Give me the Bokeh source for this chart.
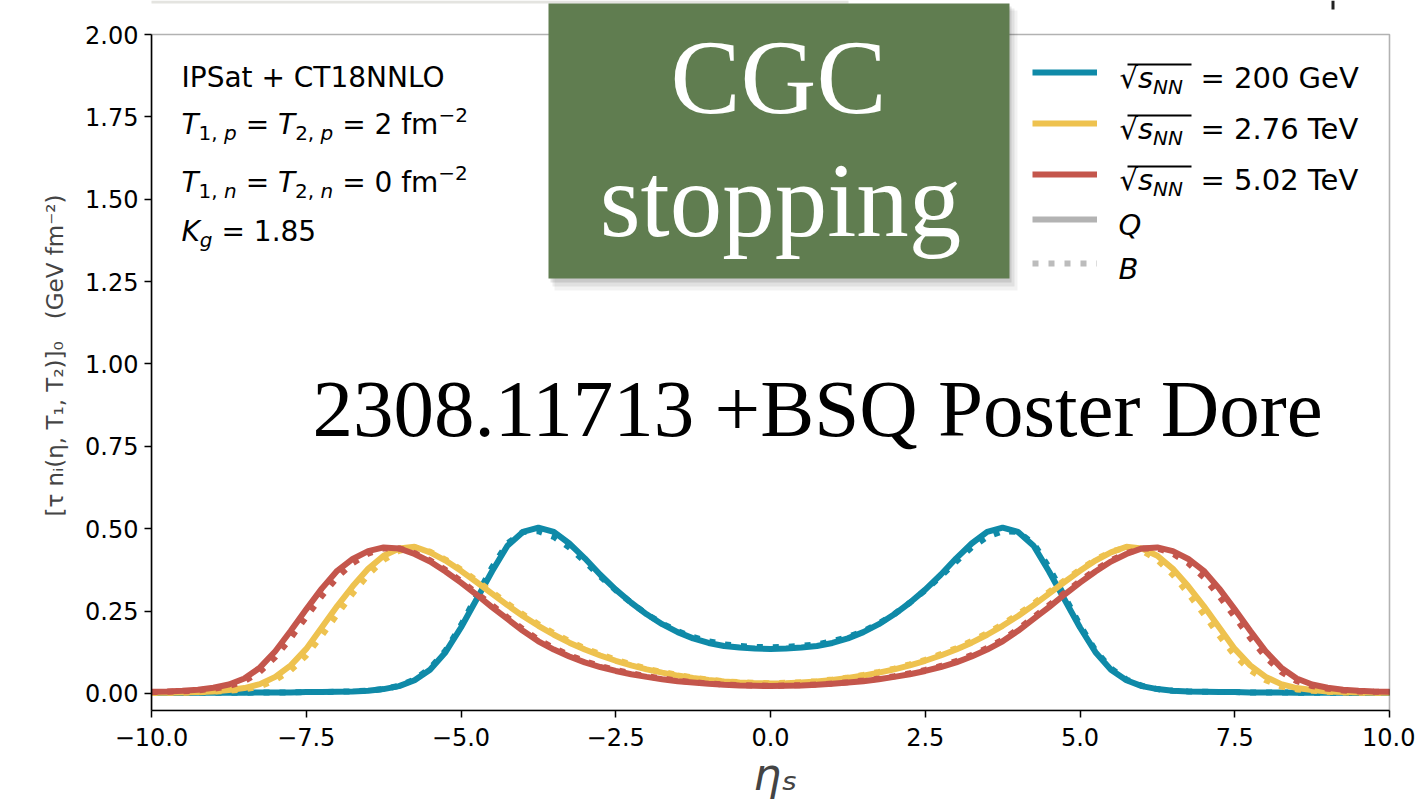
from bokeh.plotting import figure
from bokeh.models import Label, BoxAnnotation, FixedTicker, Legend, LegendItem
from bokeh.embed import file_html
from bokeh.resources import INLINE

# ---------------- data ----------------
eta = [-10.0, -9.75, -9.5, -9.25, -9.0, -8.75, -8.5, -8.25, -8.0, -7.75,
       -7.5, -7.25, -7.0, -6.75, -6.5, -6.25, -6.0, -5.75, -5.5, -5.25,
       -5.0, -4.75, -4.5, -4.25, -4.0, -3.75, -3.5, -3.25, -3.0, -2.75,
       -2.5, -2.25, -2.0, -1.75, -1.5, -1.25, -1.0, -0.75, -0.5, -0.25,
       0.0, 0.25, 0.5, 0.75, 1.0, 1.25, 1.5, 1.75, 2.0, 2.25,
       2.5, 2.75, 3.0, 3.25, 3.5, 3.75, 4.0, 4.25, 4.5, 4.75,
       5.0, 5.25, 5.5, 5.75, 6.0, 6.25, 6.5, 6.75, 7.0, 7.25,
       7.5, 7.75, 8.0, 8.25, 8.5, 8.75, 9.0, 9.25, 9.5, 9.75, 10.0]

# sqrt(s_NN) = 200 GeV
q_200 = [0.001, 0.001, 0.001, 0.002, 0.002, 0.002, 0.002, 0.003, 0.003, 0.003,
         0.004, 0.004, 0.005, 0.006, 0.008, 0.013, 0.022, 0.040, 0.072, 0.125,
         0.200, 0.285, 0.370, 0.448, 0.490, 0.503, 0.490, 0.455, 0.410, 0.360,
         0.315, 0.275, 0.240, 0.210, 0.186, 0.167, 0.153, 0.144, 0.139, 0.136,
         0.135, 0.136, 0.139, 0.144, 0.153, 0.167, 0.186, 0.210, 0.240, 0.275,
         0.315, 0.360, 0.410, 0.455, 0.490, 0.503, 0.490, 0.448, 0.370, 0.285,
         0.200, 0.125, 0.072, 0.040, 0.022, 0.013, 0.008, 0.006, 0.005, 0.004,
         0.004, 0.003, 0.003, 0.003, 0.002, 0.002, 0.002, 0.002, 0.001, 0.001, 0.001]
b_200 = [0.001, 0.001, 0.001, 0.002, 0.002, 0.002, 0.002, 0.003, 0.003, 0.003,
         0.004, 0.004, 0.005, 0.006, 0.008, 0.013, 0.023, 0.042, 0.076, 0.130,
         0.207, 0.295, 0.382, 0.455, 0.490, 0.492, 0.475, 0.443, 0.400, 0.355,
         0.313, 0.275, 0.241, 0.212, 0.189, 0.171, 0.158, 0.149, 0.144, 0.141,
         0.140, 0.141, 0.144, 0.149, 0.158, 0.171, 0.189, 0.212, 0.241, 0.275,
         0.313, 0.355, 0.400, 0.443, 0.475, 0.492, 0.490, 0.455, 0.382, 0.295,
         0.207, 0.130, 0.076, 0.042, 0.023, 0.013, 0.008, 0.006, 0.005, 0.004,
         0.004, 0.003, 0.003, 0.003, 0.002, 0.002, 0.002, 0.002, 0.001, 0.001, 0.001]

# sqrt(s_NN) = 2.76 TeV
q_276 = [0.002, 0.002, 0.003, 0.004, 0.006, 0.010, 0.016, 0.028, 0.050, 0.085,
         0.135, 0.200, 0.265, 0.325, 0.378, 0.418, 0.440, 0.445, 0.428, 0.403,
         0.372, 0.338, 0.303, 0.268, 0.235, 0.205, 0.178, 0.154, 0.133, 0.115,
         0.099, 0.085, 0.073, 0.063, 0.054, 0.047, 0.041, 0.036, 0.033, 0.031,
         0.030, 0.031, 0.033, 0.036, 0.041, 0.047, 0.054, 0.063, 0.073, 0.085,
         0.099, 0.115, 0.133, 0.154, 0.178, 0.205, 0.235, 0.268, 0.303, 0.338,
         0.372, 0.403, 0.428, 0.445, 0.440, 0.418, 0.378, 0.325, 0.265, 0.200,
         0.135, 0.085, 0.050, 0.028, 0.016, 0.010, 0.006, 0.004, 0.003, 0.002, 0.002]
b_276 = [0.001, 0.002, 0.002, 0.003, 0.005, 0.008, 0.012, 0.021, 0.040, 0.070,
         0.115, 0.175, 0.240, 0.303, 0.360, 0.405, 0.433, 0.443, 0.430, 0.406,
         0.376, 0.343, 0.308, 0.273, 0.240, 0.210, 0.183, 0.159, 0.137, 0.119,
         0.102, 0.088, 0.075, 0.065, 0.056, 0.048, 0.042, 0.037, 0.034, 0.032,
         0.031, 0.032, 0.034, 0.037, 0.042, 0.048, 0.056, 0.065, 0.075, 0.088,
         0.102, 0.119, 0.137, 0.159, 0.183, 0.210, 0.240, 0.273, 0.308, 0.343,
         0.376, 0.406, 0.430, 0.443, 0.433, 0.405, 0.360, 0.303, 0.240, 0.175,
         0.115, 0.070, 0.040, 0.021, 0.012, 0.008, 0.005, 0.003, 0.002, 0.002, 0.001]

# sqrt(s_NN) = 5.02 TeV
q_502 = [0.005, 0.006, 0.008, 0.011, 0.017, 0.027, 0.045, 0.078, 0.128, 0.190,
         0.255, 0.318, 0.372, 0.408, 0.432, 0.443, 0.440, 0.423, 0.400, 0.370,
         0.336, 0.300, 0.262, 0.226, 0.190, 0.158, 0.133, 0.112, 0.094, 0.080,
         0.068, 0.058, 0.050, 0.043, 0.037, 0.033, 0.029, 0.026, 0.024, 0.023,
         0.022, 0.023, 0.024, 0.026, 0.029, 0.033, 0.037, 0.043, 0.050, 0.058,
         0.068, 0.080, 0.094, 0.112, 0.133, 0.158, 0.190, 0.226, 0.262, 0.300,
         0.336, 0.370, 0.400, 0.423, 0.440, 0.443, 0.432, 0.408, 0.372, 0.318,
         0.255, 0.190, 0.128, 0.078, 0.045, 0.027, 0.017, 0.011, 0.008, 0.006, 0.005]
b_502 = [0.004, 0.005, 0.006, 0.009, 0.014, 0.022, 0.037, 0.065, 0.110, 0.168,
         0.232, 0.295, 0.352, 0.395, 0.424, 0.440, 0.440, 0.426, 0.404, 0.375,
         0.341, 0.305, 0.268, 0.231, 0.195, 0.163, 0.138, 0.116, 0.098, 0.083,
         0.071, 0.061, 0.052, 0.045, 0.039, 0.034, 0.030, 0.027, 0.025, 0.024,
         0.023, 0.024, 0.025, 0.027, 0.030, 0.034, 0.039, 0.045, 0.052, 0.061,
         0.071, 0.083, 0.098, 0.116, 0.138, 0.163, 0.195, 0.231, 0.268, 0.305,
         0.341, 0.375, 0.404, 0.426, 0.440, 0.440, 0.424, 0.395, 0.352, 0.295,
         0.232, 0.168, 0.110, 0.065, 0.037, 0.022, 0.014, 0.009, 0.006, 0.005, 0.004]

energies = ["200 GeV", "2.76 TeV", "5.02 TeV"]
x_ticks = [-10.0, -7.5, -5.0, -2.5, 0.0, 2.5, 5.0, 7.5, 10.0]
x_tick_labels = ["\u221210.0", "\u22127.5", "\u22125.0", "\u22122.5", "0.0", "2.5", "5.0", "7.5", "10.0"]
y_ticks = [0.0, 0.25, 0.5, 0.75, 1.0, 1.25, 1.5, 1.75, 2.0]
y_tick_labels = ["0.00", "0.25", "0.50", "0.75", "1.00", "1.25", "1.50", "1.75", "2.00"]

for s in (q_200, b_200, q_276, b_276, q_502, b_502):
    assert len(s) == len(eta)

# ---------------- layout ----------------
W, H = 1415, 802
# axes box of the reference (page pixels)
FL, FR, FT, FB = 151, 1389, 34, 710
X0, X1 = -10.0, 10.0
Y0, Y1 = -0.052, 2.0
PXX = (FR - FL) / (X1 - X0)
PXY = (FB - FT) / (Y1 - Y0)
# the drawing frame reaches the top of the page and a little right of the axes box,
# so the slide box on top of the chart can overhang the axes
CANVAS_TOP, CANVAS_RIGHT = 0, 1399


def dx(px):
    return X0 + (px - FL) / PXX


def dy(py):
    return Y1 - (py - FT) / PXY


p = figure(width=W, height=H,
           x_range=(X0, dx(CANVAS_RIGHT)), y_range=(Y0, dy(CANVAS_TOP)),
           output_backend="svg", toolbar_location=None,
           min_border_left=FL, min_border_right=W - CANVAS_RIGHT,
           min_border_top=CANVAS_TOP, min_border_bottom=H - FB)
p.background_fill_color = "white"
p.border_fill_color = "white"
p.outline_line_color = None
p.xgrid.visible = False
p.ygrid.visible = False

p.xaxis.ticker = FixedTicker(ticks=x_ticks)
p.xaxis.major_label_overrides = {t: l for t, l in zip(x_ticks, x_tick_labels)}
p.yaxis.ticker = FixedTicker(ticks=y_ticks)
p.yaxis.major_label_overrides = {t: l for t, l in zip(y_ticks, y_tick_labels)}
p.xaxis.bounds = (X0, X1)
p.yaxis.bounds = (Y0, Y1)
for ax in (p.xaxis, p.yaxis):
    ax.major_label_text_font = "DejaVu Sans"
    ax.major_label_text_font_size = "24px"
    ax.major_label_text_color = "black"
    ax.major_tick_out = 7
    ax.major_tick_in = 0
    ax.major_tick_line_color = "black"
    ax.major_tick_line_width = 1.5
    ax.minor_tick_line_color = None
    ax.axis_line_color = "black"
    ax.axis_line_width = 1.6
p.xaxis.major_label_standoff = 10
p.yaxis.major_label_standoff = 6

p.xaxis.axis_label = "\u03b7\u209b"
p.xaxis.axis_label_text_font = "DejaVu Sans"
p.xaxis.axis_label_text_font_size = "44px"
p.xaxis.axis_label_text_font_style = "italic"
p.xaxis.axis_label_standoff = 0
p.yaxis.axis_label = "[\u03c4 n\u1d62(\u03b7, T\u2081, T\u2082)]\u2080\u00a0\u00a0\u00a0(GeV fm\u207b\u00b2)"
p.yaxis.axis_label_text_font = "DejaVu Sans"
p.yaxis.axis_label_text_font_size = "23px"
p.yaxis.axis_label_text_font_style = "normal"
p.yaxis.axis_label_standoff = 14

# top and right spines of the axes box
p.add_layout(BoxAnnotation(left=X0, right=X1, bottom=Y0, top=Y1, fill_alpha=0,
                           line_color="black", line_width=1.6))

# ---------------- curves ----------------
colors = ["#0f8aa8", "#eec24f", "#c4564c"]
DOT = "6 10"
LW = 6
solid = []
for q, b, c in zip((q_200, q_276, q_502), (b_200, b_276, b_502), colors):
    r = p.line(eta, q, line_color=c, line_width=LW)
    p.line(eta, b, line_color=c, line_width=LW, line_dash=DOT, line_cap="butt")
    solid.append(r)

# style-only renderers (nothing drawn) for the Q / B legend entries
nan = float("nan")
r_q = p.line(x=[nan, nan], y=[nan, nan], line_color="#b3b3b3", line_width=LW)
r_b = p.line(x=[nan, nan], y=[nan, nan], line_color="#bcbcbc", line_width=LW, line_dash=DOT)

common = dict(glyph_width=65, glyph_height=20, label_height=20, padding=0, margin=0,
              label_standoff=0, label_width=0, label_text_font_size="1px",
              border_line_color=None, background_fill_alpha=0)
LEG_FIX = 7
leg1 = Legend(items=[LegendItem(label=" ", renderers=[r]) for r in solid],
              location=(1032 - FL, FB - 191 + LEG_FIX), spacing=31, **common)
leg2 = Legend(items=[LegendItem(label=" ", renderers=[r_q]), LegendItem(label=" ", renderers=[r_b])],
              location=(1032 - FL, FB - 280 + LEG_FIX), spacing=24, **common)
p.add_layout(leg1)
p.add_layout(leg2)

# ---------------- text helpers ----------------
CW = {" ": 0.318, ",": 0.318, ".": 0.318, "=": 0.838, "+": 0.838, "\u2212": 0.838,
      "0": 0.636, "1": 0.636, "2": 0.636, "3": 0.636, "4": 0.636, "5": 0.636,
      "6": 0.636, "7": 0.636, "8": 0.636, "9": 0.636,
      "T": 0.611, "p": 0.635, "n": 0.634, "f": 0.352, "m": 0.974, "K": 0.656,
      "g": 0.635, "I": 0.295, "P": 0.603, "S": 0.635, "a": 0.613, "t": 0.392,
      "C": 0.698, "N": 0.748, "L": 0.557, "O": 0.787, "G": 0.775, "e": 0.615,
      "V": 0.684, "s": 0.521, "Q": 0.787, "B": 0.686, "\u221a": 0.636}
BASE_K = 0.36   # measured offset of the rendered baseline, as a fraction of font size


def tw(s, size):
    return sum(CW.get(ch, 0.6) for ch in s) * size


def put(x_px, base_px, text, size, style="normal", color="black", font="DejaVu Sans", align="left"):
    p.add_layout(Label(x=dx(x_px), y=dy(base_px - BASE_K * size), text=text,
                       text_font=font, text_font_size=f"{size}px",
                       text_font_style=style, text_color=color,
                       text_baseline="alphabetic", text_align=align))


def rich(x_px, base_px, segs):
    x = x_px
    for txt, size, style, off in segs:
        body = txt.lstrip(" ")
        lead = len(txt) - len(body)
        xs = x + tw(" " * lead, size)
        if body.strip():
            put(xs, base_px + off, body.rstrip(" "), size, style)
        x += tw(txt, size)
    return x


S, s_ = 28, 20
SUB, SUP = 6, -12

# top-left annotation
rich(181, 87, [("IPSat + CT18NNLO", S, "normal", 0)])
rich(181, 134, [("T", S, "italic", 0), ("1,", s_, "normal", SUB), (" p", s_, "italic", SUB),
                (" = ", S, "normal", 0), ("T", S, "italic", 0), ("2,", s_, "normal", SUB),
                (" p", s_, "italic", SUB), (" = 2 fm", S, "normal", 0), ("\u22122", s_, "normal", SUP)])
rich(181, 192, [("T", S, "italic", 0), ("1,", s_, "normal", SUB), (" n", s_, "italic", SUB),
                (" = ", S, "normal", 0), ("T", S, "italic", 0), ("2,", s_, "normal", SUB),
                (" n", s_, "italic", SUB), (" = 0 fm", S, "normal", 0), ("\u22122", s_, "normal", SUP)])
rich(181, 241, [("K", S, "italic", 0), ("g", s_, "italic", SUB), (" = 1.85", S, "normal", 0)])

# legend texts
LS = 29
row_centers = [79, 130, 181]
for e, yc in zip(energies, row_centers):
    base = yc + 9
    rich(1119, base, [("\u221a", LS, "normal", 0), ("s", LS, "italic", 0), ("NN", s_, "italic", SUB)])
    rich(1200, base, [("= " + e, LS, "normal", 0)])
    p.add_layout(BoxAnnotation(left=dx(1127), right=dx(1191), top=dy(yc - 16), bottom=dy(yc - 14),
                               fill_color="black", fill_alpha=1, line_color=None))
rich(1118, 235, [("Q", LS, "italic", 0)])
rich(1118, 279, [("B", LS, "italic", 0)])

# ---------------- slide overlays ----------------
p.add_layout(BoxAnnotation(left=dx(0), right=dx(848), top=dy(0), bottom=dy(3),
                           fill_color="#e4e4e0", fill_alpha=1, line_color=None))
p.add_layout(BoxAnnotation(left=dx(1331), right=dx(1334), top=dy(0), bottom=dy(9),
                           fill_color="#222222", fill_alpha=1, line_color=None))
for l_, r_, t_, b_, a_ in ((554, 1017, 10, 290, 0.05), (552, 1014, 8, 286, 0.07),
                           (550, 1011, 6, 282, 0.10)):
    p.add_layout(BoxAnnotation(left=dx(l_), right=dx(r_), top=dy(t_), bottom=dy(b_),
                               fill_color="#000000", fill_alpha=a_, line_color=None))
p.add_layout(BoxAnnotation(left=dx(548), right=dx(1009), top=dy(3), bottom=dy(278),
                           fill_color="#607d50", fill_alpha=1, line_color=None))
put(778, 115, "CGC", 105, color="white", font="Liberation Serif", align="center")
put(780, 238, "stopping", 105, color="white", font="Liberation Serif", align="center")
put(312, 438, "2308.11713 +BSQ Poster Dore", 81, color="black", font="Liberation Serif")

open("out.html", "w").write(file_html(p, INLINE))
